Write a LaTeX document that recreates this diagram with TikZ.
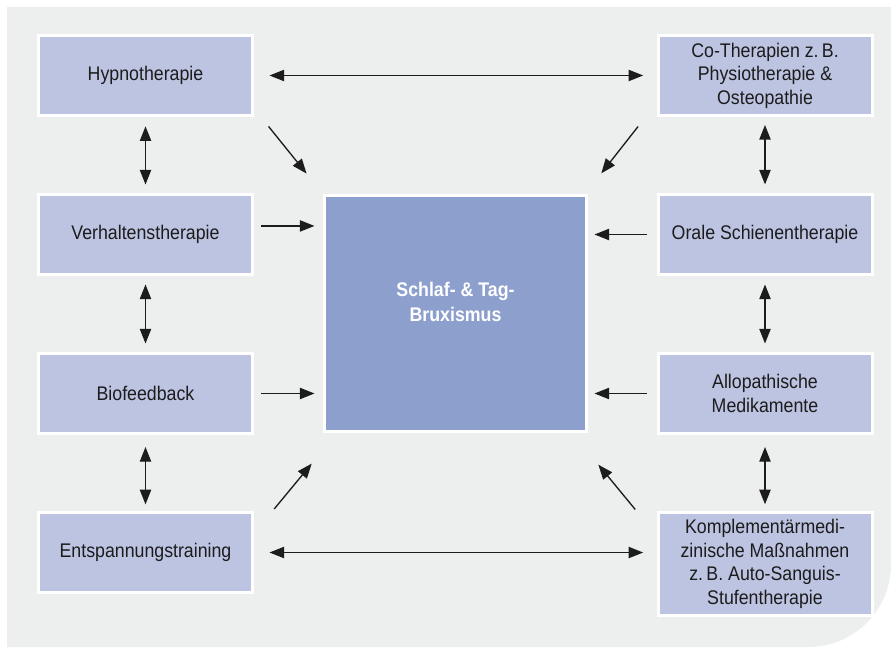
\documentclass[tikz,border=0pt]{standalone}
\usepackage{fontspec}
\setmainfont{Liberation Sans}[FakeStretch=0.9]
\usepackage{xcolor}
\usetikzlibrary{positioning,calc,arrows.meta}

\definecolor{panelgray}{HTML}{EDEFEE}
\definecolor{boxblue}{HTML}{BDC4E2}
\definecolor{coreblue}{HTML}{8D9FCD}
\definecolor{inkgray}{HTML}{1C1C1C}

\tikzset{
    therapy/.style={draw=white, line width=2.25pt, fill=boxblue, text=inkgray,
        minimum width=160.5pt, minimum height=60pt, align=center,
        font=\fontsize{14.8}{17.6}\selectfont},
    core/.style={draw=white, line width=2.25pt, fill=coreblue,
        minimum width=196.5pt, minimum height=177pt},
    corelabel/.style={text=white, align=center,
        font=\fontsize{14.8}{19}\selectfont\bfseries},
    arr/.style={-{Triangle[length=11pt,width=8.5pt]}, line width=1pt, inkgray},
    dbl/.style={{Triangle[length=11pt,width=8.5pt]}-{Triangle[length=11pt,width=8.5pt]},
        line width=1pt, inkgray}
}

\begin{document}
\begin{tikzpicture}[x=0.75pt, y=-0.75pt, node distance=57pt]
    % page and panel
    \useasboundingbox (0,0) rectangle (891,648);
    \fill[white] (0,0) rectangle (891,648);
    \fill[panelgray] (7,7) -- (891,7) [rounded corners=62pt] -- (891,647)
        [sharp corners] -- (7,647) -- cycle;

    % left column
    \node [therapy] (hypno) at (145.5,75.5) {Hypnotherapie};
    \node [therapy, below=of hypno] (verhalten) {Verhaltenstherapie};
    \node [therapy, below=of verhalten] (bio) {Biofeedback};
    \node [therapy, below=of bio] (entsp) {Entspannungstraining};

    % right column
    \node [therapy] (co) at (765,75.5) {Co-Therapien z.\,B.\\Physiotherapie \&\\Osteopathie};
    \node [therapy, below=of co] (orale) {Orale Schienentherapie};
    \node [therapy, below=of orale] (allo) {Allopathische\\Medikamente};
    \node [therapy, below=of allo, minimum height=77.25pt] (kompl)
        {Komplementärmedi-\\zinische Maßnahmen\\z.\,B. Auto-Sanguis-\\Stufentherapie};

    % centre
    \node [core, label={[corelabel, yshift=8.5pt]center:{Schlaf- \& Tag-\\Bruxismus}}]
        (brux) at (455.5,313.5) {};

    % links between therapies
    \draw [dbl, shorten <=11.6pt, shorten >=10pt] (hypno.east) -- (co.west);
    \draw [dbl, shorten <=11.6pt, shorten >=10pt] (entsp.east) -- (entsp.east -| kompl.west);
    \draw [dbl, shorten <=7pt, shorten >=6.4pt] (hypno) -- (verhalten);
    \draw [dbl, shorten <=6.4pt, shorten >=6.4pt] (verhalten) -- (bio);
    \draw [dbl, shorten <=9pt, shorten >=5pt] (bio) -- (entsp);
    \draw [dbl, shorten <=6pt, shorten >=6.4pt] (co) -- (orale);
    \draw [dbl, shorten <=6.4pt, shorten >=6.4pt] (orale) -- (allo);
    \draw [dbl, shorten <=9pt, shorten >=5pt] (allo) -- (kompl);

    % into the centre
    \draw [arr, shorten <=5.6pt, shorten >=6.4pt] ([yshift=6.4pt]verhalten.east)
        -- ([yshift=6.4pt]verhalten.east -| brux.west);
    \draw [arr, shorten <=5.6pt, shorten >=6.4pt] (bio.east) -- (bio.east -| brux.west);
    \draw [arr, shorten <=7pt, shorten >=4.9pt] (orale.west) -- (orale.west -| brux.east);
    \draw [arr, shorten <=7pt, shorten >=4.9pt] (allo.west) -- (allo.west -| brux.east);
    \draw [arr, shorten <=9.1pt, shorten >=19.7pt] ([xshift=5.2pt]hypno.south east) -- (brux.north west);
    \draw [arr, shorten <=9.1pt, shorten >=19.7pt] ([xshift=-8.2pt]co.south west)
        -- ([xshift=-2.2pt]brux.north east);
    \draw [arr, shorten <=2pt, shorten >=29.8pt] ([xshift=13.9pt]entsp.north east)
        -- ([xshift=10.5pt]brux.south west);
    \draw [arr, shorten <=1.5pt, shorten >=30.8pt] ([xshift=-15pt]kompl.north west)
        -- ([xshift=-11.8pt]brux.south east);
\end{tikzpicture}
\end{document}
